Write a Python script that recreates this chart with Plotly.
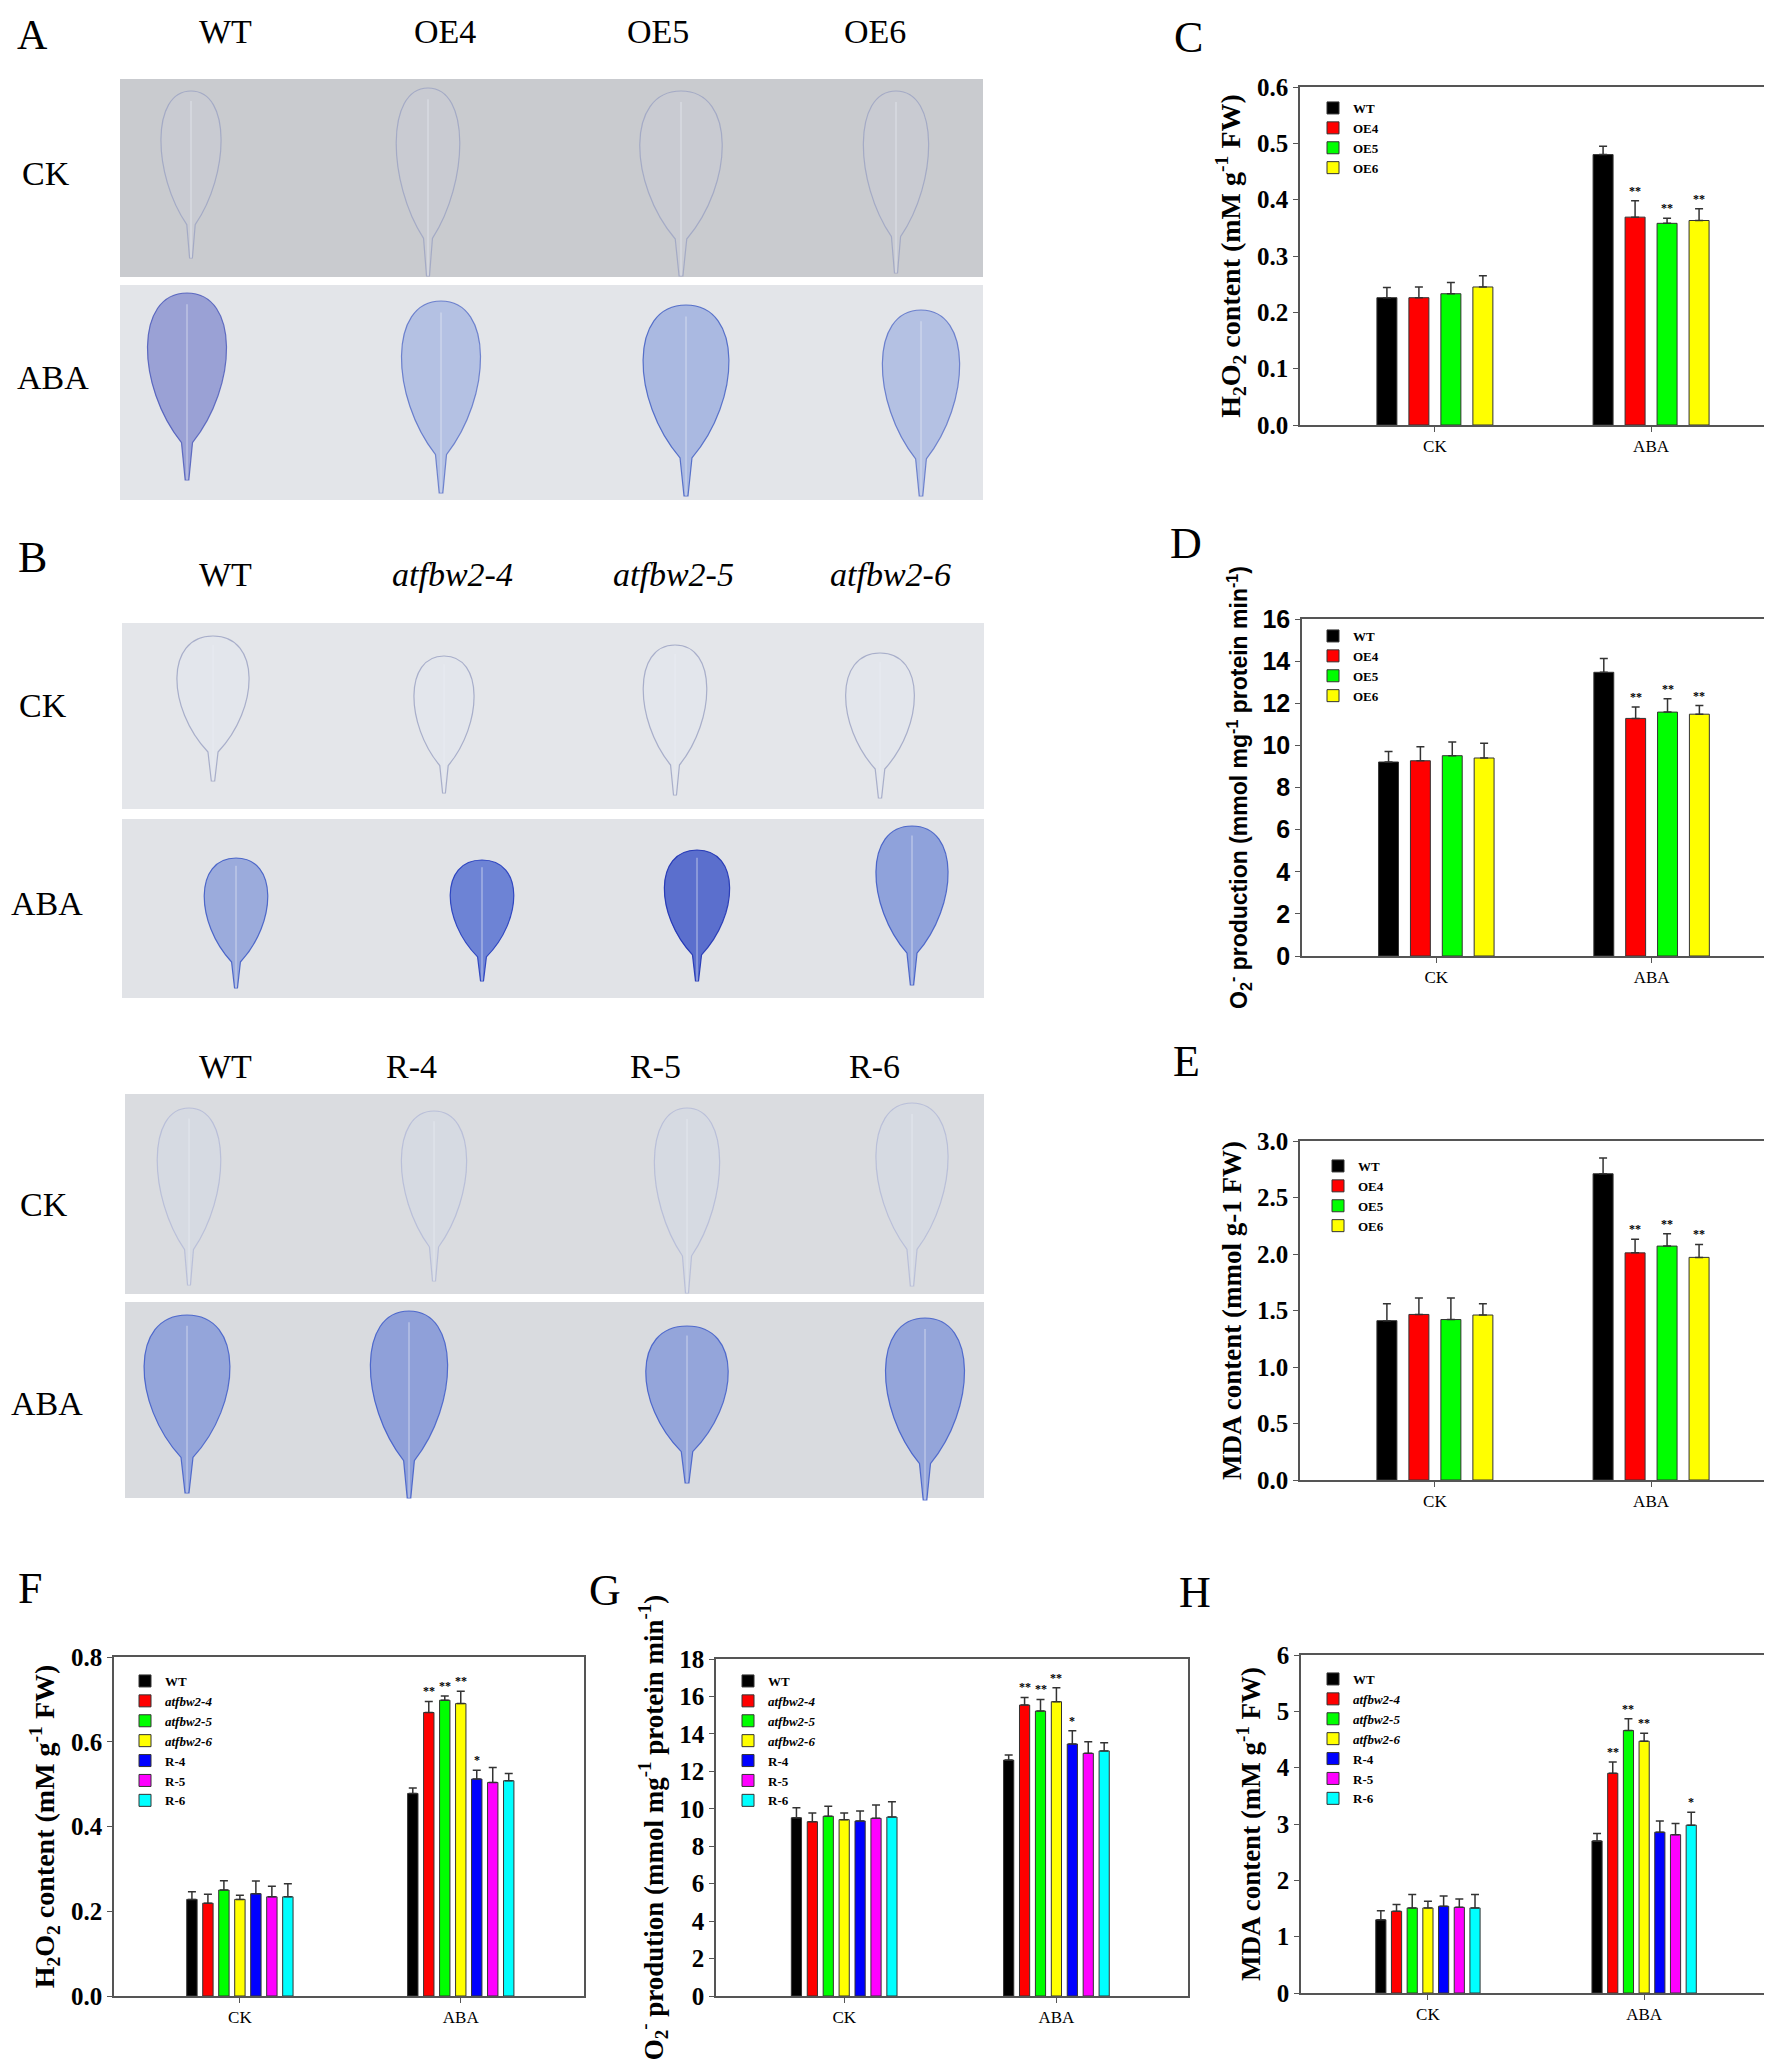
import plotly.graph_objects as go

W, H = 1772, 2060
SERIF = "Liberation Serif"
SANS = "Liberation Sans"

groups = ["CK", "ABA"]
oe_lines = ["WT", "OE4", "OE5", "OE6"]
mut_lines = ["WT", "<i>atfbw2-4</i>", "<i>atfbw2-5</i>", "<i>atfbw2-6</i>", "R-4", "R-5", "R-6"]
oe_colors = ["#000000", "#ff0000", "#00ff00", "#ffff00"]
mut_colors = ["#000000", "#ff0000", "#00ff00", "#ffff00", "#0000ff", "#ff00ff", "#00ffff"]

# one row per line, values for [CK, ABA]
c_mean = [[0.226, 0.480], [0.226, 0.369], [0.233, 0.358], [0.245, 0.363]]
c_err = [[0.018, 0.015], [0.019, 0.029], [0.020, 0.009], [0.020, 0.021]]
c_sig = ["", "**", "**", "**"]

d_mean = [[9.21, 13.47], [9.27, 11.28], [9.51, 11.58], [9.40, 11.48]]
d_err = [[0.50, 0.66], [0.66, 0.54], [0.65, 0.63], [0.70, 0.41]]
d_sig = ["", "**", "**", "**"]

e_mean = [[1.41, 2.71], [1.465, 2.01], [1.42, 2.07], [1.46, 1.97]]
e_err = [[0.15, 0.14], [0.145, 0.12], [0.19, 0.11], [0.10, 0.115]]
e_sig = ["", "**", "**", "**"]

f_mean = [[0.228, 0.478], [0.219, 0.669], [0.250, 0.698], [0.228, 0.690],
          [0.2415, 0.512], [0.234, 0.504], [0.234, 0.508]]
f_err = [[0.018, 0.013], [0.021, 0.026], [0.022, 0.010], [0.010, 0.029],
         [0.030, 0.021], [0.025, 0.035], [0.031, 0.017]]
f_sig = ["", "**", "**", "**", "*", "", ""]

g_mean = [[9.52, 12.60], [9.31, 15.54], [9.60, 15.22], [9.42, 15.72],
          [9.35, 13.46], [9.49, 12.96], [9.56, 13.09]]
g_err = [[0.54, 0.27], [0.46, 0.41], [0.53, 0.62], [0.35, 0.75],
         [0.53, 0.71], [0.71, 0.62], [0.82, 0.44]]
g_sig = ["", "**", "**", "**", "*", "", ""]

h_mean = [[1.30, 2.70], [1.45, 3.90], [1.51, 4.66], [1.51, 4.47],
          [1.54, 2.855], [1.52, 2.81], [1.51, 2.98]]
h_err = [[0.16, 0.13], [0.12, 0.20], [0.24, 0.21], [0.12, 0.14],
         [0.18, 0.20], [0.15, 0.20], [0.24, 0.23]]
h_sig = ["", "**", "**", "**", "", "", "*"]

h2o2_title = "H<sub>2</sub>O<sub>2</sub> content (mM g<sup>-1</sup> FW)"


def px(x):
    return x / W


def py(y):
    return 1 - y / H


panels = [
    dict(letter="C", lpos=(1180, 30), box=(1292, 1765, 79, 417), yr=[0, 0.6], dtick=0.1, fmt=".1f",
         title=h2o2_title, tfont=SERIF, tsize=28, xr=[-0.624, 1.564], step=0.148, bw=0.0925,
         lines=oe_lines, colors=oe_colors, mean=c_mean, err=c_err, sig=c_sig, leg=(1305, 85)),
    dict(letter="D", lpos=(1178, 535), box=(1294, 1765, 611, 948), yr=[0, 16], dtick=2, fmt="d",
         title="O<sub>2</sub><sup>-</sup> production (mmol mg<sup>-1</sup> protein min<sup>-1</sup>)",
         tfont=SANS, tsize=23, xr=[-0.624, 1.564], step=0.148, bw=0.0925,
         lines=oe_lines, colors=oe_colors, mean=d_mean, err=d_err, sig=d_sig, leg=(1305, 613)),
    dict(letter="E", lpos=(1178, 1053), box=(1292, 1765, 1133, 1472), yr=[0, 3.0], dtick=0.5, fmt=".1f",
         title="MDA content (mmol g-1 FW)", tfont=SERIF, tsize=27, xr=[-0.624, 1.564], step=0.148, bw=0.0925,
         lines=oe_lines, colors=oe_colors, mean=e_mean, err=e_err, sig=e_sig, leg=(1310, 1143)),
    dict(letter="F", lpos=(22, 1580), box=(106, 576, 1649, 1988), yr=[0, 0.8], dtick=0.2, fmt=".1f",
         title=h2o2_title, tfont=SERIF, tsize=28, xr=[-0.57, 1.558], step=0.0724, bw=0.047,
         lines=mut_lines, colors=mut_colors, mean=f_mean, err=f_err, sig=f_sig, leg=(117, 1658)),
    dict(letter="G", lpos=(597, 1582), box=(708, 1180, 1651, 1988), yr=[0, 18], dtick=2, fmt="d",
         title="O<sub>2</sub><sup>-</sup> prodution (mmol mg<sup>-1</sup> protein min<sup>-1</sup>)",
         tfont=SERIF, tsize=27, xr=[-0.604, 1.62], step=0.075, bw=0.048,
         lines=mut_lines, colors=mut_colors, mean=g_mean, err=g_err, sig=g_sig, leg=(720, 1658)),
    dict(letter="H", lpos=(1187, 1584), box=(1293, 1765, 1647, 1985), yr=[0, 6], dtick=1, fmt="d",
         title="MDA content (mM g<sup>-1</sup> FW)", tfont=SERIF, tsize=27, xr=[-0.587, 1.596], step=0.0726,
         bw=0.047, lines=mut_lines, colors=mut_colors, mean=h_mean, err=h_err, sig=h_sig, leg=(1305, 1656)),
]

fig = go.Figure()
layout = dict(width=W, height=H, margin=dict(l=0, r=0, t=0, b=0),
              paper_bgcolor="white", plot_bgcolor="white", barmode="overlay",
              font=dict(family=SERIF, color="black"))
annotations = []
shapes = []

for k, p in enumerate(panels):
    idx = "" if k == 0 else str(k + 1)
    xa, ya, lg = "x" + idx, "y" + idx, "legend" + idx
    n = len(p["lines"])
    for i, name in enumerate(p["lines"]):
        off = -n * p["step"] / 2 + i * p["step"] + (p["step"] - p["bw"]) / 2
        fig.add_trace(go.Bar(
            x=[0, 1], y=p["mean"][i], width=p["bw"], offset=off, name=name,
            marker=dict(color=p["colors"][i], line=dict(color="#333333", width=1)),
            error_y=dict(type="data", array=p["err"][i], arrayminus=[0, 0], symmetric=False,
                         color="#333333", thickness=1.5, width=4),
            xaxis=xa, yaxis=ya, legend=lg))
        if p["sig"][i]:
            annotations.append(dict(
                x=1 + off + p["bw"] / 2, y=p["mean"][i][1] + p["err"][i][1], xref=xa, yref=ya,
                text=p["sig"][i], showarrow=False, xanchor="center", yanchor="bottom", yshift=1,
                font=dict(family=SERIF, size=12, weight="bold")))
    x0, x1, y0, y1 = p["box"]
    axis_style = dict(showline=True, mirror=True, linecolor="#555555", linewidth=1.5,
                      showgrid=False, zeroline=False, automargin=False, ticks="outside",
                      ticklen=5, tickcolor="#555555")
    layout["xaxis" + idx] = dict(axis_style, domain=[px(x0), px(x1)], range=p["xr"],
                                 anchor=ya, tickvals=[0, 1], ticktext=groups,
                                 tickfont=dict(family=SERIF, size=17))
    layout["yaxis" + idx] = dict(axis_style, domain=[py(y1), py(y0)], range=p["yr"],
                                 anchor=xa, dtick=p["dtick"], tickformat=p["fmt"],
                                 tickfont=dict(family=p["tfont"], size=25, weight="bold"),
                                 title=dict(text=p["title"], standoff=8,
                                            font=dict(family=p["tfont"], size=p["tsize"], weight="bold")))
    layout[lg] = dict(x=px(p["leg"][0]), y=py(p["leg"][1]), xanchor="left", yanchor="top",
                      bgcolor="rgba(0,0,0,0)", tracegroupgap=0, itemwidth=30,
                      font=dict(family=SERIF, size=13, weight="bold"))
    annotations.append(dict(x=px(p["lpos"][0]), y=py(p["lpos"][1]), xref="paper", yref="paper",
                            text=p["letter"], showarrow=False, xanchor="center", yanchor="middle",
                            font=dict(family=SERIF, size=44)))

# ---- staining photographs (A, B and the complemented lines) ----
photo_rows = [
    # (x0, x1, y0, y1, background)
    (112, 975, 71, 269, "#c9cbcf"),
    (112, 975, 277, 492, "#e3e5e9"),
    (114, 976, 615, 801, "#e4e6ea"),
    (114, 976, 811, 990, "#e1e3e7"),
    (117, 976, 1086, 1286, "#dadce0"),
    (117, 976, 1294, 1490, "#d9dbdf"),
]
ck_a = ("rgba(200,205,225,0.22)", "rgba(120,130,185,0.45)")
ck_b = ("rgba(225,228,240,0.35)", "rgba(110,120,170,0.5)")
ck_r = ("rgba(205,210,232,0.25)", "rgba(140,150,205,0.4)")
leaves = [
    # cx, top, bottom, half width, (fill, outline)
    (183, 83, 250, 35, ck_a), (420, 80, 268, 37, ck_a), (673, 83, 268, 48, ck_a), (888, 83, 265, 38, ck_a),
    (179, 285, 472, 46, ("rgba(105,115,200,0.6)", "rgba(70,85,185,0.8)")),
    (433, 293, 485, 46, ("rgba(110,140,218,0.4)", "rgba(70,95,195,0.7)")),
    (678, 297, 488, 50, ("rgba(100,130,215,0.45)", "rgba(60,90,195,0.8)")),
    (913, 302, 488, 45, ("rgba(110,140,218,0.4)", "rgba(70,95,195,0.7)")),
    (205, 628, 773, 42, ck_b), (436, 648, 785, 35, ck_b), (667, 637, 787, 37, ck_b), (872, 645, 790, 40, ck_b),
    (228, 850, 980, 37, ("rgba(85,115,210,0.5)", "rgba(50,80,195,0.8)")),
    (474, 852, 973, 37, ("rgba(55,85,205,0.68)", "rgba(35,60,190,0.9)")),
    (689, 842, 973, 38, ("rgba(45,70,195,0.74)", "rgba(30,50,180,0.9)")),
    (904, 818, 977, 42, ("rgba(85,115,210,0.58)", "rgba(50,80,195,0.8)")),
    (181, 1100, 1277, 37, ck_r), (426, 1103, 1273, 38, ck_r), (679, 1100, 1285, 38, ck_r),
    (904, 1095, 1278, 42, ck_r),
    (179, 1307, 1485, 50, ("rgba(85,115,212,0.52)", "rgba(55,85,200,0.8)")),
    (401, 1303, 1490, 45, ("rgba(85,115,212,0.56)", "rgba(55,85,200,0.8)")),
    (679, 1318, 1475, 48, ("rgba(85,115,212,0.52)", "rgba(55,85,200,0.8)")),
    (917, 1310, 1492, 46, ("rgba(85,115,212,0.52)", "rgba(55,85,200,0.8)")),
]


def leaf_path(cx, top, bot, hw):
    h = bot - top
    yb = top + 0.80 * h
    pts = [
        "M{},{}".format(px(cx), py(top)),
        "C{},{} {},{} {},{}".format(px(cx + 1.15 * hw), py(top), px(cx + 1.1 * hw), py(top + 0.5 * h),
                                    px(cx + 0.12 * hw), py(yb)),
        "L{},{}".format(px(cx + 0.04 * hw), py(bot)),
        "L{},{}".format(px(cx - 0.04 * hw), py(bot)),
        "L{},{}".format(px(cx - 0.12 * hw), py(yb)),
        "C{},{} {},{} {},{}".format(px(cx - 1.1 * hw), py(top + 0.5 * h), px(cx - 1.15 * hw), py(top),
                                    px(cx), py(top)),
        "Z",
    ]
    return " ".join(pts)


for (x0, x1, y0, y1, bg) in photo_rows:
    shapes.append(dict(type="rect", xref="paper", yref="paper", x0=px(x0), x1=px(x1),
                       y0=py(y1), y1=py(y0), fillcolor=bg, line=dict(width=0), layer="below"))
for (cx, top, bot, hw, (fill, edge)) in leaves:
    shapes.append(dict(type="path", xref="paper", yref="paper", path=leaf_path(cx, top, bot, hw),
                       fillcolor=fill, line=dict(color=edge, width=1.2), layer="above"))
    shapes.append(dict(type="line", xref="paper", yref="paper", x0=px(cx), x1=px(cx),
                       y0=py(top + 0.06 * (bot - top)), y1=py(bot),
                       line=dict(color="rgba(235,238,245,0.55)", width=1.2)))

photo_labels = [
    ("A", 24, 27, 42, False),
    ("WT", 217, 24, 34, False), ("OE4", 437, 24, 34, False),
    ("OE5", 650, 24, 34, False), ("OE6", 867, 24, 34, False),
    ("CK", 38, 166, 34, False), ("ABA", 45, 369, 34, False),
    ("B", 24, 549, 44, False),
    ("WT", 217, 566, 34, False), ("atfbw2-4", 444, 566, 34, True),
    ("atfbw2-5", 665, 566, 34, True), ("atfbw2-6", 882, 566, 34, True),
    ("CK", 35, 697, 34, False), ("ABA", 39, 896, 34, False),
    ("WT", 217, 1058, 34, False), ("R-4", 403, 1058, 34, False),
    ("R-5", 647, 1058, 34, False), ("R-6", 866, 1058, 34, False),
    ("CK", 36, 1196, 34, False), ("ABA", 39, 1395, 34, False),
]
for (txt, x, y, size, ital) in photo_labels:
    annotations.append(dict(x=px(x), y=py(y), xref="paper", yref="paper", showarrow=False,
                            xanchor="center", yanchor="middle",
                            text="<i>" + txt + "</i>" if ital else txt,
                            font=dict(family=SERIF, size=size)))

layout["annotations"] = annotations
layout["shapes"] = shapes
fig.update_layout(**layout)
fig.write_html("out.html")
